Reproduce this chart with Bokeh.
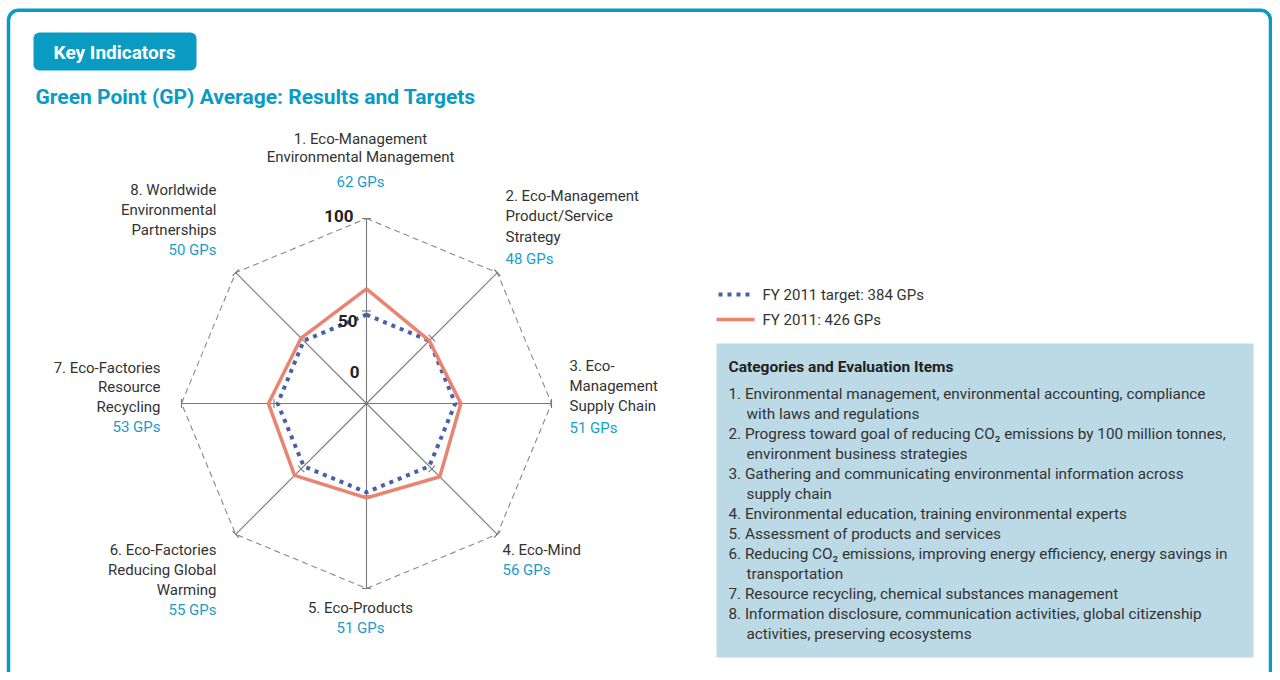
import numpy as np
from bokeh.plotting import figure
from bokeh.models import Range1d, BoxAnnotation
from bokeh.core.properties import value
from bokeh.embed import file_html
from bokeh.resources import INLINE

# ---------------- data ----------------
categories = [
    "1. Eco-Management\nEnvironmental Management",
    "2. Eco-Management\nProduct/Service\nStrategy",
    "3. Eco-\nManagement\nSupply Chain",
    "4. Eco-Mind",
    "5. Eco-Products",
    "6. Eco-Factories\nReducing Global\nWarming",
    "7. Eco-Factories\nResource\nRecycling",
    "8. Worldwide\nEnvironmental\nPartnerships",
]
results_fy2011 = [62, 48, 51, 56, 51, 55, 53, 50]
targets_fy2011 = [48, 48, 48, 48, 48, 48, 48, 48]
scale_ticks = [0, 50, 100]
scale_max = 100
legend_labels = ["FY 2011 target: 384 GPs", "FY 2011: 426 GPs"]
header_text = "Key Indicators"
chart_title = "Green Point (GP) Average: Results and Targets"
box_title = "Categories and Evaluation Items"
box_items = [
    ["1. Environmental management, environmental accounting, compliance", "with laws and regulations"],
    ["2. Progress toward goal of reducing CO\u2082 emissions by 100 million tonnes,", "environment business strategies"],
    ["3. Gathering and communicating environmental information across", "supply chain"],
    ["4. Environmental education, training environmental experts"],
    ["5. Assessment of products and services"],
    ["6. Reducing CO\u2082 emissions, improving energy efficiency, energy savings in", "transportation"],
    ["7. Resource recycling, chemical substances management"],
    ["8. Information disclosure, communication activities, global citizenship", "activities, preserving ecosystems"],
]

# ---------------- layout / style ----------------
FONT = "Roboto"
TEAL = "#0a9bc3"
GP_COLOR = "#1a9dc9"
TXT = "#333333"
ORANGE = "#ea8470"
BLUE = "#4a5fa8"
CX, CY = 366, 403
R = 185.0  # pixels for scale_max

# label anchors: (x, first-line y, align, gp y)
label_layout = [
    (360, 138, "center", 181),
    (505, 195, "left", 258),
    (569, 365, "left", 427),
    (502, 549, "left", 569),
    (360, 607, "center", 627),
    (216, 549, "right", 609),
    (160, 367, "right", 426),
    (216, 189, "right", 249),
]
line_step = [18, 20.5, 20, 20, 20, 20, 19.5, 20]
scale_label_layout = [(359, 371), (357, 320), (353, 215)]

W, H = 1272, 672
p = figure(width=W, height=H, x_range=Range1d(0, W), y_range=Range1d(H, 0),
           output_backend="svg", toolbar_location=None, min_border=0,
           background_fill_color="white", border_fill_color="white")
p.axis.visible = False
p.grid.visible = False
p.outline_line_color = None

# frame and boxes
p.add_layout(BoxAnnotation(left=8, right=1270, top=9.8, bottom=760, fill_alpha=0,
                           line_color=TEAL, line_alpha=1, line_width=3.5, border_radius=10,
                           level="underlay"))
p.add_layout(BoxAnnotation(left=33, right=196, top=32, bottom=70, fill_color=TEAL, fill_alpha=1,
                           line_alpha=0, border_radius=6, level="underlay"))
p.add_layout(BoxAnnotation(left=716, right=1253, top=343, bottom=657, fill_color="#bcd9e6",
                           fill_alpha=1, line_alpha=0, level="underlay"))

p.text(x=[114], y=[52], text=[header_text], text_font=value(FONT), text_font_size="19px",
       text_font_style="bold", text_color="white", text_align="center", text_baseline="middle")
p.text(x=[35], y=[96], text=[chart_title], text_font=value(FONT), text_font_size="21px",
       text_font_style="bold", text_color=TEAL, text_align="left", text_baseline="middle")

# radar geometry
n = len(categories)
phi = np.arange(n) * 2 * np.pi / n
sx, sy = np.sin(phi), -np.cos(phi)

def pts(vals):
    r = np.asarray(vals, dtype=float) / scale_max * R
    return list(CX + r * sx), list(CY + r * sy)

# outer dashed octagon
ox, oy = pts([scale_max] * n)
p.line(ox + [ox[0]], oy + [oy[0]], line_color="#8a8a8a", line_width=1.1, line_dash="6 4")
# spokes
p.segment(x0=[CX] * n, y0=[CY] * n, x1=ox, y1=oy, line_color="#7a7a7a", line_width=1.1)
# tick crosses at 50 and 100
tx0, ty0, tx1, ty1 = [], [], [], []
for t in scale_ticks[1:]:
    xs, ys = pts([t] * n)
    for i in range(n):
        px_, py_ = -sy[i], sx[i]
        tx0.append(xs[i] - 4.5 * px_); ty0.append(ys[i] - 4.5 * py_)
        tx1.append(xs[i] + 4.5 * px_); ty1.append(ys[i] + 4.5 * py_)
p.segment(x0=tx0, y0=ty0, x1=tx1, y1=ty1, line_color="#7a7a7a", line_width=1.1)

# series
bx, by = pts(targets_fy2011)
p.line(bx + [bx[0]], by + [by[0]], line_color=BLUE, line_width=4, line_dash="4 5", line_cap="butt")
rx, ry = pts(results_fy2011)
p.line(rx + [rx[0]], ry + [ry[0]], line_color=ORANGE, line_width=3.5, line_join="miter")

# scale labels
p.text(x=[a for a, b in scale_label_layout], y=[b for a, b in scale_label_layout],
       text=[str(t) for t in scale_ticks], text_font=value(FONT), text_font_size="17px",
       text_font_style="bold", text_color="#222222", text_align="right", text_baseline="middle")

# category labels
for i, cat in enumerate(categories):
    x, y, align, gy = label_layout[i]
    lines = cat.split("\n")
    p.text(x=[x] * len(lines), y=[y + k * line_step[i] for k in range(len(lines))], text=lines,
           text_font=value(FONT), text_font_size="15px", text_color=TXT,
           text_align=align, text_baseline="middle")
    p.text(x=[x], y=[gy], text=[f"{results_fy2011[i]} GPs"], text_font=value(FONT),
           text_font_size="15px", text_color=GP_COLOR, text_align=align, text_baseline="middle")

# legend
p.line([718, 754], [294, 294], line_color=BLUE, line_width=4, line_dash="4 5", line_cap="butt")
p.line([716, 754], [319, 319], line_color=ORANGE, line_width=3.5)
p.text(x=[762, 762], y=[294, 319], text=legend_labels, text_font=value(FONT), text_font_size="15px",
       text_color=TXT, text_align="left", text_baseline="middle")

# info box
p.text(x=[728], y=[366], text=[box_title], text_font=value(FONT), text_font_size="15.5px",
       text_font_style="bold", text_color="#222222", text_align="left", text_baseline="middle")
y = 393
bxs, bys, btx = [], [], []
for item in box_items:
    for k, line in enumerate(item):
        bxs.append(728 if k == 0 else 746)
        bys.append(y)
        btx.append(line)
        y += 20
p.text(x=bxs, y=bys, text=btx, text_font=value(FONT), text_font_size="15.3px",
       text_color=TXT, text_align="left", text_baseline="middle")

open("out.html", "w").write(file_html(p, INLINE))
